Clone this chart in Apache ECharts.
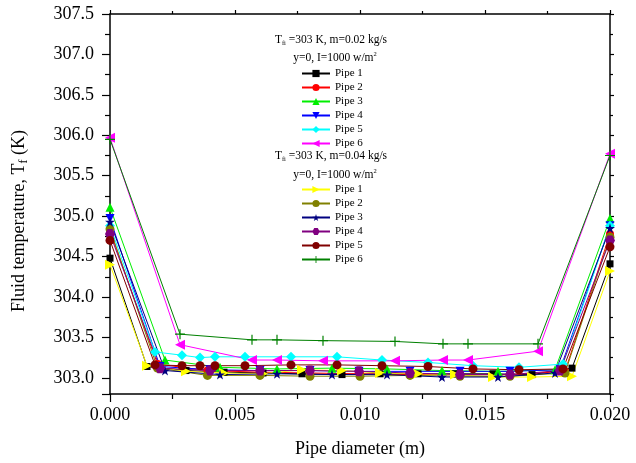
<!DOCTYPE html>
<html>
<head>
<meta charset="utf-8">
<script src="https://cdn.jsdelivr.net/npm/echarts@6/dist/echarts.min.js"></script>
<style>
  html, body {margin: 0; padding: 0; background: #fff;}
  #chart {width: 636px; height: 463px;}
</style>
</head>
<body>
<div id="chart"></div>
<script>
// x positions (m) of the points, shared by both mass flow rates
var xPipe1 = [0, 0.00148, 0.00304, 0.00456, 0.00612, 0.00768, 0.00928, 0.0108, 0.01232, 0.0138, 0.01532, 0.01688, 0.01848, 0.020];
var xPipe2 = [0, 0.0019, 0.0039, 0.0060, 0.0080, 0.0100, 0.0120, 0.0140, 0.0160, 0.0182, 0.020];
var xPipe3 = [0, 0.0022, 0.0044, 0.00668, 0.00888, 0.01108, 0.01328, 0.01552, 0.0178, 0.020];
var xPipe4 = [0, 0.0020, 0.0040, 0.0060, 0.0080, 0.00996, 0.0120, 0.0140, 0.0160, 0.0180, 0.020];
var xPipe5 = [0, 0.0018, 0.00288, 0.0036, 0.0042, 0.0054, 0.00724, 0.00908, 0.01088, 0.01272, 0.01452, 0.01636, 0.01812, 0.020];
var xPipe6 = [0, 0.0028, 0.00568, 0.00668, 0.00852, 0.0114, 0.01332, 0.01432, 0.01712, 0.020];

// m = 0.02 kg/s
var tA1 = [304.48, 303.14, 303.09, 303.07, 303.06, 303.05, 303.04, 303.05, 303.05, 303.05, 303.05, 303.04, 303.12, 304.41];
var tA2 = [304.82, 303.17, 303.09, 303.07, 303.06, 303.05, 303.04, 303.04, 303.04, 303.08, 304.78];
var tA3 = [305.11, 303.22, 303.13, 303.11, 303.12, 303.11, 303.09, 303.08, 303.10, 304.97];
var tA4 = [304.97, 303.14, 303.10, 303.09, 303.09, 303.08, 303.08, 303.08, 303.08, 303.10, 304.88];
var tA5 = [304.88, 303.32, 303.28, 303.25, 303.26, 303.26, 303.26, 303.26, 303.22, 303.19, 303.15, 303.13, 303.17, 304.88];
var tA6 = [305.97, 303.41, 303.22, 303.22, 303.21, 303.21, 303.22, 303.22, 303.33, 305.77];

// m = 0.04 kg/s
var tB1 = [304.40, 303.15, 303.08, 303.06, 303.05, 303.10, 303.09, 303.06, 303.05, 303.04, 303.01, 303.01, 303.02, 304.32];
var tB2 = [304.84, 303.12, 303.03, 303.03, 303.02, 303.02, 303.03, 303.02, 303.02, 303.06, 304.74];
var tB3 = [304.93, 303.09, 303.04, 303.05, 303.04, 303.04, 303.01, 303.01, 303.06, 304.85];
var tB4 = [304.78, 303.12, 303.09, 303.09, 303.09, 303.08, 303.06, 303.04, 303.04, 303.09, 304.70];
var tB5 = [304.70, 303.16, 303.15, 303.15, 303.15, 303.15, 303.16, 303.16, 303.15, 303.14, 303.11, 303.10, 303.11, 304.62];
var tB6 = [305.95, 303.54, 303.47, 303.47, 303.46, 303.45, 303.42, 303.42, 303.42, 305.75];

var pipeNames = ['Pipe 1', 'Pipe 2', 'Pipe 3', 'Pipe 4', 'Pipe 5', 'Pipe 6'];

var FONT = 'Liberation Serif';
var starPath = 'path://M50,0 L61,35 L98,35 L68,57 L79,91 L50,70 L21,91 L32,57 L2,35 L39,35 Z';
var hexPath = 'path://M25,0 L75,0 L100,50 L75,100 L25,100 L0,50 Z';
var plusPath = 'path://M44,0 L56,0 L56,44 L100,44 L100,56 L56,56 L56,100 L44,100 L44,56 L0,56 L0,44 L44,44 Z';

function pairs(xs, ys) {
  var out = [];
  for (var i = 0; i < xs.length; i++) out.push([xs[i], ys[i]]);
  return out;
}

function mkSeries(name, xs, ys, color, symbol, size, rotate) {
  return {
    name: name,
    type: 'line',
    data: pairs(xs, ys),
    symbol: symbol,
    symbolSize: size,
    symbolRotate: rotate || 0,
    color: color,
    lineStyle: {width: 1, color: color},
    itemStyle: {color: color},
    emphasis: {disabled: true}
  };
}

var series = [
  mkSeries('Pipe 1', xPipe1, tA1, '#000000', 'rect', 7),
  mkSeries('Pipe 2', xPipe2, tA2, '#ff0000', 'circle', 8),
  mkSeries('Pipe 3', xPipe3, tA3, '#00ee00', 'triangle', 9),
  mkSeries('Pipe 4', xPipe4, tA4, '#0000ff', 'triangle', 9, 180),
  mkSeries('Pipe 5', xPipe5, tA5, '#00ffff', 'diamond', 10),
  mkSeries('Pipe 6', xPipe6, tA6, '#ff00ff', 'triangle', 10, 90),
  // trailing space keeps the names unique for the second legend
  mkSeries('Pipe 1 ', xPipe1, tB1, '#ffff00', 'triangle', 10, -90),
  mkSeries('Pipe 2 ', xPipe2, tB2, '#808000', 'circle', 9),
  mkSeries('Pipe 3 ', xPipe3, tB3, '#000080', starPath, 10),
  mkSeries('Pipe 4 ', xPipe4, tB4, '#800080', hexPath, 10),
  mkSeries('Pipe 5 ', xPipe5, tB5, '#800000', 'circle', 9),
  mkSeries('Pipe 6 ', xPipe6, tB6, '#008000', plusPath, 10)
];

function legendAt(top, names) {
  return {
    data: names,
    orient: 'vertical',
    left: 301,
    top: top,
    itemWidth: 28,
    itemHeight: 9,
    itemGap: 3,
    padding: 0,
    selectedMode: false,
    formatter: function (n) { return n.trim(); },
    textStyle: {fontFamily: FONT, fontSize: 11, color: '#000', lineHeight: 10}
  };
}

var axisLine = {show: true, onZero: false, lineStyle: {color: '#000', width: 1.5}};
var tickStyle = {color: '#000', width: 1.2};

var titleRich = {
  n: {fontFamily: FONT, fontSize: 11.5, color: '#000', lineHeight: 14},
  s: {fontFamily: FONT, fontSize: 6.5, color: '#000', verticalAlign: 'bottom', lineHeight: 14},
  p: {fontFamily: FONT, fontSize: 6.5, color: '#000', verticalAlign: 'top', lineHeight: 10}
};

function note(text, x, y) {
  return {
    type: 'text',
    x: x,
    y: y,
    style: {
      text: text,
      rich: titleRich,
      align: 'center',
      verticalAlign: 'middle',
      fill: '#000'
    }
  };
}

var myChart = echarts.init(document.getElementById('chart'));
myChart.setOption({
  animation: false,
  backgroundColor: '#fff',
  grid: {left: 110, top: 14, right: 26, bottom: 68},
  legend: [
    legendAt(68, pipeNames),
    legendAt(184, pipeNames.map(function (n) { return n + ' '; }))
  ],
  graphic: [
    note('{n|T}{s|fi}{n| =303 K, m=0.02 kg/s}', 331, 40),
    note('{n|y=0, I=1000 w/m}{p|2}', 335, 58),
    note('{n|T}{s|fi}{n| =303 K, m=0.04 kg/s}', 331, 156),
    note('{n|y=0, I=1000 w/m}{p|2}', 335, 175)
  ],
  xAxis: [{
    type: 'value',
    min: 0,
    max: 0.02,
    interval: 0.005,
    name: 'Pipe diameter (m)',
    nameLocation: 'middle',
    nameGap: 46,
    nameTextStyle: {fontFamily: FONT, fontSize: 18, color: '#000'},
    axisLine: axisLine,
    axisTick: {show: true, length: 8, lineStyle: tickStyle},
    minorTick: {show: true, splitNumber: 2, length: 5, lineStyle: tickStyle},
    axisLabel: {
      margin: 12, fontFamily: FONT, fontSize: 18, color: '#000',
      formatter: function (v) { return v.toFixed(3); }
    },
    splitLine: {show: false}
  }, {
    type: 'value',
    position: 'top',
    min: 0,
    max: 0.02,
    interval: 0.005,
    axisLine: axisLine,
    axisTick: {show: true, length: 4, lineStyle: tickStyle},
    minorTick: {show: true, splitNumber: 2, length: 3, lineStyle: tickStyle},
    axisLabel: {show: false},
    splitLine: {show: false}
  }],
  yAxis: [{
    type: 'value',
    min: 302.8,
    max: 307.5,
    minInterval: 0.5,
    maxInterval: 0.5,
    splitNumber: 10,
    name: '{a|Fluid temperature, T}{s|f}{a| (K)}',
    nameLocation: 'middle',
    nameGap: 80,
    nameRotate: 90,
    nameTextStyle: {
      padding: [0, 34, 0, 0],
      rich: {
        a: {fontFamily: FONT, fontSize: 18, color: '#000', lineHeight: 22},
        s: {fontFamily: FONT, fontSize: 12, color: '#000', verticalAlign: 'bottom', lineHeight: 22}
      }
    },
    axisLine: axisLine,
    axisTick: {show: true, length: 8, lineStyle: tickStyle},
    minorTick: {show: true, splitNumber: 2, length: 5, lineStyle: tickStyle},
    axisLabel: {
      margin: 16, fontFamily: FONT, fontSize: 18, color: '#000',
      formatter: function (v) {
        return Math.abs(v * 2 - Math.round(v * 2)) < 1e-6 ? v.toFixed(1) : '';
      }
    },
    splitLine: {show: false}
  }, {
    type: 'value',
    position: 'right',
    min: 302.8,
    max: 307.5,
    minInterval: 0.5,
    maxInterval: 0.5,
    splitNumber: 10,
    axisLine: axisLine,
    axisTick: {show: true, length: 4, lineStyle: tickStyle},
    minorTick: {show: true, splitNumber: 2, length: 3, lineStyle: tickStyle},
    axisLabel: {show: false},
    splitLine: {show: false}
  }],
  series: series
});
</script>
</body>
</html>
